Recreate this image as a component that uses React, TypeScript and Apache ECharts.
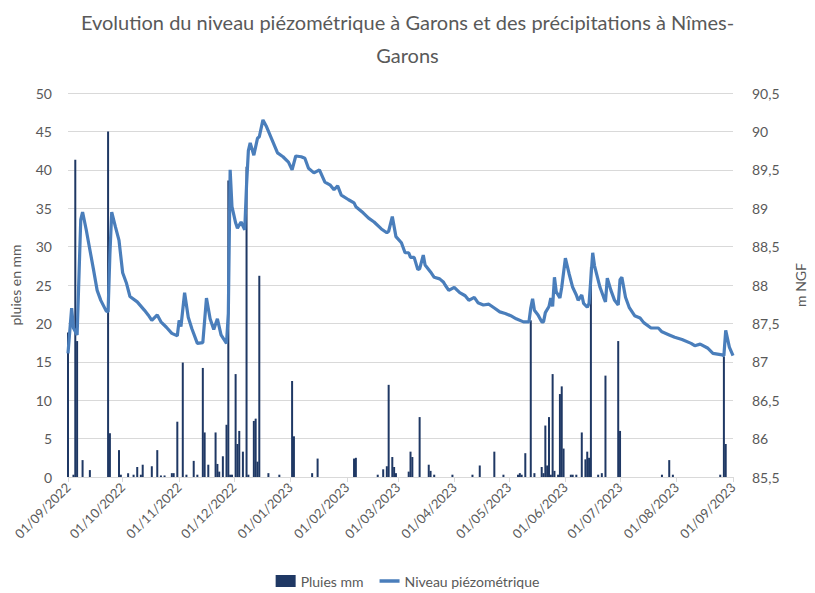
import React, { useEffect, useRef } from "react";
import * as echarts from "echarts";

const titleText =
  "Evolution du niveau piézométrique à Garons et des précipitations à Nîmes-\nGarons";

const monthLabels = [
  "01/09/2022", "01/10/2022", "01/11/2022", "01/12/2022", "01/01/2023",
  "01/02/2023", "01/03/2023", "01/04/2023", "01/05/2023", "01/06/2023",
  "01/07/2023", "01/08/2023", "01/09/2023",
];

const rainDates = [
  "01/09/2022", "04/09/2022", "05/09/2022", "06/09/2022", "09/09/2022", "13/09/2022",
  "23/09/2022", "24/09/2022", "29/09/2022", "30/09/2022", "04/10/2022", "07/10/2022",
  "09/10/2022", "11/10/2022", "12/10/2022", "17/10/2022", "20/10/2022", "22/10/2022",
  "24/10/2022", "28/10/2022", "29/10/2022", "31/10/2022", "03/11/2022", "05/11/2022",
  "09/11/2022", "11/11/2022", "14/11/2022", "15/11/2022", "17/11/2022", "21/11/2022",
  "22/11/2022", "23/11/2022", "25/11/2022", "27/11/2022", "28/11/2022", "29/11/2022",
  "30/11/2022", "02/12/2022", "03/12/2022", "04/12/2022", "06/12/2022", "08/12/2022",
  "09/12/2022", "12/12/2022", "13/12/2022", "14/12/2022", "15/12/2022", "20/12/2022",
  "26/12/2022", "02/01/2023", "03/01/2023", "13/01/2023", "16/01/2023", "05/02/2023",
  "06/02/2023", "18/02/2023", "21/02/2023", "23/02/2023", "24/02/2023", "26/02/2023",
  "27/02/2023", "28/02/2023", "07/03/2023", "08/03/2023", "09/03/2023", "13/03/2023",
  "18/03/2023", "19/03/2023", "21/03/2023", "31/03/2023", "11/04/2023", "15/04/2023",
  "23/04/2023", "28/04/2023", "06/05/2023", "07/05/2023", "08/05/2023", "10/05/2023",
  "13/05/2023", "15/05/2023", "19/05/2023", "20/05/2023", "21/05/2023", "22/05/2023",
  "23/05/2023", "24/05/2023", "25/05/2023", "26/05/2023", "28/05/2023", "29/05/2023",
  "30/05/2023", "31/05/2023", "04/06/2023", "05/06/2023", "07/06/2023", "10/06/2023",
  "12/06/2023", "13/06/2023", "14/06/2023", "15/06/2023", "19/06/2023", "21/06/2023",
  "23/06/2023", "30/06/2023", "01/07/2023", "24/07/2023", "28/07/2023", "30/07/2023",
  "25/08/2023", "27/08/2023", "28/08/2023",
];

const rainMm = [
  18.8, 0.3, 41.3, 17.7, 2.2, 0.9,
  45.0, 5.7, 3.5, 0.3, 0.5, 0.3,
  1.3, 0.3, 1.6, 1.4, 3.5, 0.2,
  0.2, 0.5, 0.5, 7.2, 14.9, 0.3,
  2.1, 0.3, 14.2, 5.8, 1.6, 5.8,
  1.7, 0.7, 2.7, 6.8, 38.6, 0.3,
  0.3, 13.4, 4.3, 6.0, 3.3, 40.4,
  0.3, 7.3, 7.6, 2.0, 26.2, 0.5,
  0.3, 12.5, 5.3, 0.5, 2.4, 2.4,
  2.5, 0.3, 1.0, 1.4, 12.0, 2.6,
  1.3, 0.5, 0.7, 3.3, 2.6, 7.8,
  1.6, 0.8, 0.3, 0.3, 0.3, 1.5,
  3.3, 0.3, 0.3, 0.5, 0.3, 3.1,
  20.4, 0.5, 1.3, 0.5, 6.7, 1.5,
  7.8, 0.3, 13.4, 0.8, 0.3, 10.8,
  11.8, 3.7, 0.3, 0.3, 0.3, 5.8,
  2.3, 3.3, 2.5, 27.3, 0.3, 0.5,
  13.2, 17.7, 6.0, 0.3, 2.2, 0.3,
  0.3, 15.7, 4.3,
];

const levelDates = [
  "01/09/2022", "03/09/2022", "04/09/2022", "06/09/2022", "08/09/2022", "09/09/2022",
  "11/09/2022", "13/09/2022", "15/09/2022", "17/09/2022", "19/09/2022", "22/09/2022",
  "23/09/2022", "24/09/2022", "25/09/2022", "27/09/2022", "29/09/2022", "01/10/2022",
  "03/10/2022", "05/10/2022", "09/10/2022", "13/10/2022", "15/10/2022", "17/10/2022",
  "20/10/2022", "22/10/2022", "25/10/2022", "28/10/2022", "31/10/2022", "01/11/2022",
  "02/11/2022", "04/11/2022", "06/11/2022", "08/11/2022", "11/11/2022", "14/11/2022",
  "16/11/2022", "18/11/2022", "20/11/2022", "22/11/2022", "24/11/2022", "27/11/2022",
  "28/11/2022", "29/11/2022", "30/11/2022", "02/12/2022", "03/12/2022", "05/12/2022",
  "07/12/2022", "08/12/2022", "09/12/2022", "10/12/2022", "12/12/2022", "14/12/2022",
  "15/12/2022", "17/12/2022", "19/12/2022", "22/12/2022", "25/12/2022", "28/12/2022",
  "31/12/2022", "02/01/2023", "04/01/2023", "07/01/2023", "09/01/2023", "11/01/2023",
  "14/01/2023", "17/01/2023", "20/01/2023", "23/01/2023", "25/01/2023", "27/01/2023",
  "29/01/2023", "02/02/2023", "05/02/2023", "06/02/2023", "10/02/2023", "13/02/2023",
  "16/02/2023", "20/02/2023", "23/02/2023", "24/02/2023", "26/02/2023", "28/02/2023",
  "03/03/2023", "05/03/2023", "07/03/2023", "08/03/2023", "10/03/2023", "12/03/2023",
  "13/03/2023", "15/03/2023", "16/03/2023", "19/03/2023", "21/03/2023", "24/03/2023",
  "26/03/2023", "27/03/2023", "29/03/2023", "01/04/2023", "04/04/2023", "07/04/2023",
  "09/04/2023", "12/04/2023", "14/04/2023", "17/04/2023", "20/04/2023", "23/04/2023",
  "26/04/2023", "29/04/2023", "02/05/2023", "05/05/2023", "09/05/2023", "12/05/2023",
  "13/05/2023", "14/05/2023", "15/05/2023", "17/05/2023", "19/05/2023", "20/05/2023",
  "21/05/2023", "23/05/2023", "24/05/2023", "25/05/2023", "26/05/2023", "27/05/2023",
  "29/05/2023", "30/05/2023", "01/06/2023", "03/06/2023", "05/06/2023", "07/06/2023",
  "08/06/2023", "10/06/2023", "11/06/2023", "13/06/2023", "14/06/2023", "16/06/2023",
  "17/06/2023", "20/06/2023", "22/06/2023", "23/06/2023", "24/06/2023", "26/06/2023",
  "28/06/2023", "30/06/2023", "01/07/2023", "02/07/2023", "04/07/2023", "06/07/2023",
  "09/07/2023", "12/07/2023", "14/07/2023", "18/07/2023", "22/07/2023", "24/07/2023",
  "28/07/2023", "31/07/2023", "04/08/2023", "09/08/2023", "11/08/2023", "14/08/2023",
  "18/08/2023", "21/08/2023", "26/08/2023", "27/08/2023", "28/08/2023", "30/08/2023",
  "01/09/2023",
];

const levelM = [
  87.11, 87.70, 87.44, 87.35, 88.85, 88.95,
  88.72, 88.46, 88.20, 87.93, 87.80, 87.66,
  87.65, 88.40, 88.95, 88.76, 88.58, 88.16,
  88.03, 87.85, 87.78, 87.67, 87.61, 87.54,
  87.61, 87.52, 87.45, 87.37, 87.34, 87.54,
  87.46, 87.90, 87.58, 87.43, 87.24, 87.25,
  87.83, 87.56, 87.42, 87.56, 87.35, 87.24,
  87.63, 89.50, 89.02, 88.81, 88.74, 88.82,
  88.72, 89.30, 89.75, 89.85, 89.69, 89.91,
  89.93, 90.15, 90.06, 89.89, 89.72, 89.67,
  89.60, 89.50, 89.68, 89.67, 89.65, 89.52,
  89.46, 89.50, 89.34, 89.30, 89.24, 89.29,
  89.17, 89.11, 89.07, 89.02, 88.94, 88.87,
  88.82, 88.73, 88.68, 88.70, 88.89, 88.63,
  88.55, 88.42, 88.42, 88.36, 88.36, 88.20,
  88.21, 88.39, 88.26, 88.17, 88.10, 88.08,
  88.04, 88.00, 87.93, 87.97, 87.90, 87.86,
  87.80, 87.84, 87.77, 87.74, 87.75, 87.70,
  87.65, 87.63, 87.60, 87.56, 87.52, 87.52,
  87.70, 87.82, 87.67, 87.61, 87.52, 87.52,
  87.64, 87.72, 87.83, 87.72, 88.10, 87.91,
  87.83, 87.97, 88.35, 88.15, 87.97, 87.87,
  87.80, 87.87, 87.76, 87.71, 87.76, 88.42,
  88.25, 87.97, 87.84, 87.78, 88.09, 87.93,
  87.80, 87.74, 88.07, 88.10, 87.84, 87.71,
  87.60, 87.57, 87.51, 87.44, 87.44, 87.39,
  87.35, 87.32, 87.29, 87.24, 87.21, 87.23,
  87.18, 87.11, 87.09, 87.08, 87.41, 87.19,
  87.08,
];

function buildDays(): string[] {
  const out: string[] = [];
  const start = Date.UTC(2022, 8, 1);
  const end = Date.UTC(2023, 8, 1);
  for (let t = start; t <= end; t += 86400000) {
    const d = new Date(t);
    const dd = String(d.getUTCDate()).padStart(2, "0");
    const mm = String(d.getUTCMonth() + 1).padStart(2, "0");
    out.push(`${dd}/${mm}/${d.getUTCFullYear()}`);
  }
  return out;
}

const FONT = "Lato, 'Open Sans', sans-serif";
const GREY = "#595959";

export default function App() {
  const ref = useRef<HTMLDivElement>(null);

  useEffect(() => {
    if (!ref.current) return;
    const chart = echarts.init(ref.current, undefined, { renderer: "svg" });
    const days = buildDays();
    const isMonth = (_i: number, v: string) => monthLabels.includes(v);

    chart.setOption({
      animation: false,
      backgroundColor: "#ffffff",
      textStyle: { fontFamily: FONT },
      title: {
        text: titleText,
        left: "center",
        top: 0,
        textStyle: {
          fontFamily: FONT,
          fontSize: 20,
          lineHeight: 33,
          color: GREY,
          fontWeight: "normal",
        },
      },
      legend: {
        top: 574,
        left: "center",
        padding: [0, 5, 0, 5],
        itemWidth: 20,
        itemHeight: 12,
        itemGap: 16,
        textStyle: { fontFamily: FONT, fontSize: 14, color: GREY },
        data: [
          { name: "Pluies mm", icon: "rect" },
          { name: "Niveau piézométrique", icon: "path://M0,0 L20,0 L20,3.5 L0,3.5 Z" },
        ],
      },
      grid: { left: 66, right: 72, top: 93, bottom: 116, containLabel: false },
      xAxis: {
        type: "category",
        data: days,
        boundaryGap: false,
        axisLine: { lineStyle: { color: "#d9d9d9" } },
        axisTick: { interval: isMonth, length: 5, lineStyle: { color: "#d9d9d9" } },
        axisLabel: {
          interval: isMonth,
          rotate: 45,
          margin: 8,
          fontFamily: FONT,
          fontSize: 13,
          color: GREY,
        },
        splitLine: { show: false },
      },
      yAxis: [
        {
          type: "value",
          min: 0,
          max: 50,
          interval: 5,
          name: "pluies en mm",
          nameLocation: "middle",
          nameGap: 46,
          nameRotate: 90,
          nameTextStyle: { fontFamily: FONT, fontSize: 14, color: GREY },
          axisLine: { show: false },
          axisTick: { show: false },
          axisLabel: { fontFamily: FONT, fontSize: 14, color: GREY, margin: 16 },
          splitLine: { lineStyle: { color: "#d9d9d9" } },
        },
        {
          type: "value",
          min: 85.5,
          max: 90.5,
          interval: 0.5,
          name: "m NGF",
          nameLocation: "middle",
          nameGap: 60,
          nameRotate: 90,
          nameTextStyle: { fontFamily: FONT, fontSize: 14, color: GREY },
          axisLine: { show: false },
          axisTick: { show: false },
          axisLabel: {
            fontFamily: FONT,
            fontSize: 14,
            color: GREY,
            margin: 19,
            formatter: (v: number) => String(v).replace(".", ","),
          },
          splitLine: { show: false },
        },
      ],
      series: [
        {
          name: "Pluies mm",
          type: "bar",
          yAxisIndex: 0,
          barWidth: 2,
          itemStyle: { color: "#1F3864" },
          data: rainDates.map((d, i) => [d, rainMm[i]]),
        },
        {
          name: "Niveau piézométrique",
          type: "line",
          yAxisIndex: 1,
          symbol: "none",
          smooth: false,
          lineStyle: { color: "#4A7EBB", width: 3.2 },
          itemStyle: { color: "#4A7EBB" },
          data: levelDates.map((d, i) => [d, levelM[i]]),
        },
      ],
    });

    return () => chart.dispose();
  }, []);

  return (
    <div
      ref={ref}
      style={{ position: "fixed", left: 0, top: 0, width: 815, height: 593 }}
    />
  );
}
